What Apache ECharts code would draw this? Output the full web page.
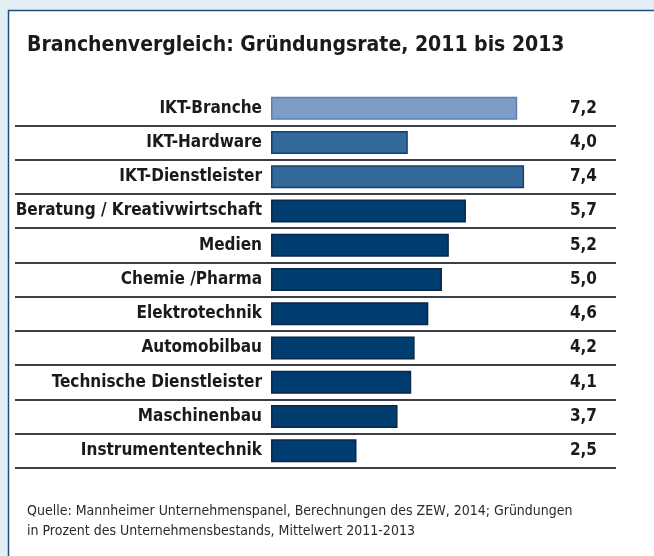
<!DOCTYPE html>
<html><head><meta charset="utf-8">
<script src="https://cdn.jsdelivr.net/npm/echarts@6/dist/echarts.min.js"></script>
<style>html,body{margin:0;padding:0;background:#e4eef5;}#c{width:654px;height:556px;}</style>
</head><body><div id="c"></div>
<script>
const categories = ['IKT-Branche','IKT-Hardware','IKT-Dienstleister','Beratung / Kreativwirtschaft','Medien','Chemie /Pharma','Elektrotechnik','Automobilbau','Technische Dienstleister','Maschinenbau','Instrumententechnik'];
const values = [7.2, 4.0, 7.4, 5.7, 5.2, 5.0, 4.6, 4.2, 4.1, 3.7, 2.5];
const groupOf = ['branche','ikt','ikt','other','other','other','other','other','other','other','other'];
const fills = {branche:'#7d9dc5', ikt:'#336a9b', other:'#003d71'};
const borders = {branche:'#5a80b2', ikt:'#173f6b', other:'#0c2647'};
const titleText = 'Branchenvergleich: Gründungsrate, 2011 bis 2013';
const noteText = 'Quelle: Mannheimer Unternehmenspanel, Berechnungen des ZEW, 2014; Gründungen\nin Prozent des Unternehmensbestands, Mittelwert 2011-2013';
const fmt = v => v.toFixed(1).replace('.', ',');
const FONT = '"Liberation Sans Narrow", "DejaVu Sans Condensed", sans-serif';

const chart = echarts.init(document.getElementById('c'), null, {renderer:'canvas'});
chart.setOption({
  animation:false,
  backgroundColor:'#e4eef5',
  graphic:[{type:'rect', shape:{x:8.5,y:10.5,width:700,height:600}, style:{fill:'#ffffff', stroke:'#1f4f7d', lineWidth:1.5}, z:-10}],
  title:[
    {text:titleText, left:22, top:30, textStyle:{fontFamily:FONT, fontSize:21, fontWeight:'bold', color:'#1a1a1a'}},
    {text:noteText, left:22, top:496, textStyle:{fontFamily:FONT, fontSize:14, fontWeight:'normal', color:'#2a2a2a', lineHeight:20}}
  ],
  grid:[
    {left:15, right:38, top:91, height:377},
    {left:271, width:342, top:91, height:377}
  ],
  xAxis:[
    {gridIndex:0, type:'value', min:0, max:1, show:false},
    {gridIndex:1, type:'value', min:0, max:10, show:false}
  ],
  yAxis:[
    {gridIndex:0, type:'category', data:categories, inverse:true, axisLine:{show:false}, axisTick:{show:false}, axisLabel:{show:false},
     splitLine:{show:true, interval:(i)=>i!==0, lineStyle:{color:'#3a3f4a', width:2}}},
    {gridIndex:1, type:'category', data:categories, inverse:true, axisLine:{show:false}, axisTick:{show:false},
     axisLabel:{margin:9, fontFamily:FONT, fontSize:17, color:'#1a1a1a', fontWeight:'bold'}},
    {gridIndex:1, type:'category', data:categories, inverse:true, position:'right', axisLine:{show:false}, axisTick:{show:false},
     axisLabel:{margin:-16, align:'right', fontFamily:FONT, fontSize:17, fontWeight:'bold', color:'#1a1a1a',
       formatter:(v,i)=>fmt(values[i])}}
  ],
  series:[{
    type:'bar', xAxisIndex:1, yAxisIndex:1, barWidth:23,
    data: values.map((v,i)=>({value:v, itemStyle:{color:fills[groupOf[i]], borderColor:borders[groupOf[i]], borderWidth:1.5}}))
  }]
});
</script></body></html>
